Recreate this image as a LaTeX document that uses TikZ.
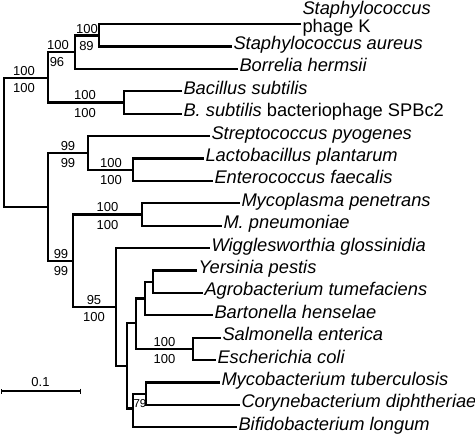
\documentclass[tikz,border=0pt]{standalone}
\usepackage{fontspec}
\setmainfont{Liberation Sans}
\usetikzlibrary{arrows.meta}
\begin{document}
\begin{tikzpicture}[x=1pt,y=-1pt,inner sep=0pt,outer sep=0pt,
branch/.style={line width=2.2pt},
leaf/.style={anchor=west,inner sep=1.5pt,text height=10pt,text depth=4pt,font=\fontsize{18.3}{20}\selectfont\itshape},
bsup/.style={anchor=base,yshift=2.5pt,font=\fontsize{13}{13}\selectfont},
bsdn/.style={anchor=base,yshift=-14.7pt,font=\fontsize{13}{13}\selectfont}]
\useasboundingbox (0,0) rectangle (475,434);
\coordinate (root) at (4,142.2);
\coordinate (nUpper) at (48,77.6);
\coordinate (nStaph) at (75,52.2);
\coordinate (nStaphK) at (99,35.5);
\coordinate (nBac) at (124,102.4);
\coordinate (nLower) at (48,206.7);
\coordinate (nStrep) at (88,152.6);
\coordinate (nLacEnt) at (133,169.6);
\coordinate (nMid) at (73,260.7);
\coordinate (nMyco) at (142,214.4);
\coordinate (nWigg) at (116,306.9);
\coordinate (nGamma) at (127,365.8);
\coordinate (nEntero) at (136,323.2);
\coordinate (nBart) at (145,298.4);
\coordinate (nYer) at (153,281.6);
\coordinate (nSalm) at (193,348.8);
\coordinate (nBifido) at (133,408.4);
\coordinate (nCory) at (146,393.6);
\coordinate (tipK) at (301,24);
\node[leaf] (phageK) at ([yshift=-5pt]tipK) {\upshape phage K};
\node[leaf,anchor=base west] (staph) at ([yshift=17.4pt]phageK.base west) {Staphylococcus};
\node[leaf] (aureus) at (232,46.4) {Staphylococcus aureus};
\node[leaf] (borrelia) at (238,68.8) {Borrelia hermsii};
\node[leaf] (bacillus) at (182,91.2) {Bacillus subtilis};
\node[leaf] (spbc) at (182,113.6) {B. subtilis \upshape bacteriophage SPBc2};
\node[leaf] (strep) at (210,136) {Streptococcus pyogenes};
\node[leaf] (lacto) at (204,158.4) {Lactobacillus plantarum};
\node[leaf] (entero) at (213,180.8) {Enterococcus faecalis};
\node[leaf] (mycopen) at (240,203.2) {Mycoplasma penetrans};
\node[leaf] (mpneu) at (222,225.6) {M. pneumoniae};
\node[leaf] (wiggles) at (210,248) {Wigglesworthia glossinidia};
\node[leaf] (yersinia) at (197,270.4) {Yersinia pestis};
\node[leaf] (agro) at (203,292.8) {Agrobacterium tumefaciens};
\node[leaf] (barton) at (213,315.2) {Bartonella henselae};
\node[leaf] (salm) at (221,337.6) {Salmonella enterica};
\node[leaf] (ecoli) at (216,360) {Escherichia coli};
\node[leaf] (mycotub) at (220,382.4) {Mycobacterium tuberculosis};
\node[leaf] (coryne) at (240,404.8) {Corynebacterium diphtheriae};
\node[leaf] (bifido) at (237,427.2) {Bifidobacterium longum};
\draw[branch] (root) |- (nUpper);
\draw[branch] (root) |- (nLower);
\draw[branch] (nUpper) |- (nStaph);
\draw[branch] (nUpper) |- (nBac);
\draw[branch] (nStaph) |- (nStaphK);
\draw[branch] (nStaph) |- (borrelia);
\draw[branch] (nStaphK) |- (tipK);
\draw[branch] (nStaphK) |- (aureus);
\draw[branch] (nBac) |- (bacillus);
\draw[branch] (nBac) |- (spbc);
\draw[branch] (nLower) |- (nStrep);
\draw[branch] (nLower) |- (nMid);
\draw[branch] (nStrep) |- (strep);
\draw[branch] (nStrep) |- (nLacEnt);
\draw[branch] (nLacEnt) |- (lacto);
\draw[branch] (nLacEnt) |- (entero);
\draw[branch] (nMid) |- (nMyco);
\draw[branch] (nMid) |- (nWigg);
\draw[branch] (nMyco) |- (mycopen);
\draw[branch] (nMyco) |- (mpneu);
\draw[branch] (nWigg) |- (wiggles);
\draw[branch] (nWigg) |- (nGamma);
\draw[branch] (nGamma) |- (nEntero);
\draw[branch] (nGamma) |- (nBifido);
\draw[branch] (nEntero) |- (nBart);
\draw[branch] (nEntero) |- (nSalm);
\draw[branch] (nBart) |- (nYer);
\draw[branch] (nBart) |- (barton);
\draw[branch] (nYer) |- (yersinia);
\draw[branch] (nYer) |- (agro);
\draw[branch] (nSalm) |- (salm);
\draw[branch] (nSalm) |- (ecoli);
\draw[branch] (nBifido) |- (nCory);
\draw[branch] (nBifido) |- (bifido);
\draw[branch] (nCory) |- (mycotub);
\draw[branch] (nCory) |- (coryne);
\node[bsup] (upRoot) at (24,77.6) {100};
\node[bsdn] (dnRoot) at (24,77.6) {100};
\node[bsup] (upStaph) at (58,52.2) {100};
\node[bsdn] (dnStaph) at (57,52.2) {96};
\node[bsup] (upStaphK) at (87,35.5) {100};
\node[bsdn] (dnStaphK) at (86.5,35.5) {89};
\node[bsup] (upBac) at (85,102.4) {100};
\node[bsdn] (dnBac) at (85,102.4) {100};
\node[bsup] (upStrep) at (68,152.6) {99};
\node[bsdn] (dnStrep) at (68,152.6) {99};
\node[bsup] (upLacEnt) at (111,169.6) {100};
\node[bsdn] (dnLacEnt) at (111,169.6) {100};
\node[bsup] (upMyco) at (107.5,214.4) {100};
\node[bsdn] (dnMyco) at (107.5,214.4) {100};
\node[bsup] (upMid) at (61,260.7) {99};
\node[bsdn] (dnMid) at (61,260.7) {99};
\node[bsup] (upWigg) at (94,306.9) {95};
\node[bsdn] (dnWigg) at (94,306.9) {100};
\node[bsup] (upSalm) at (164.5,348.8) {100};
\node[bsdn] (dnSalm) at (164.5,348.8) {100};
\node[font=\fontsize{11.5}{11.5}\selectfont] (bsCory) at (140,403.5) {79};
\coordinate (sbL) at (0.8,391);
\coordinate (sbR) at (80.5,391);
\draw[line width=1.7pt,{Bar[width=5pt,line width=0.8pt]}-{Bar[width=5pt,line width=0.8pt]}] (sbL) -- (sbR);
\node[anchor=base,yshift=4.5pt,font=\fontsize{13}{13}\selectfont] (sbLabel) at (40.5,391) {0.1};
\end{tikzpicture}
\end{document}
